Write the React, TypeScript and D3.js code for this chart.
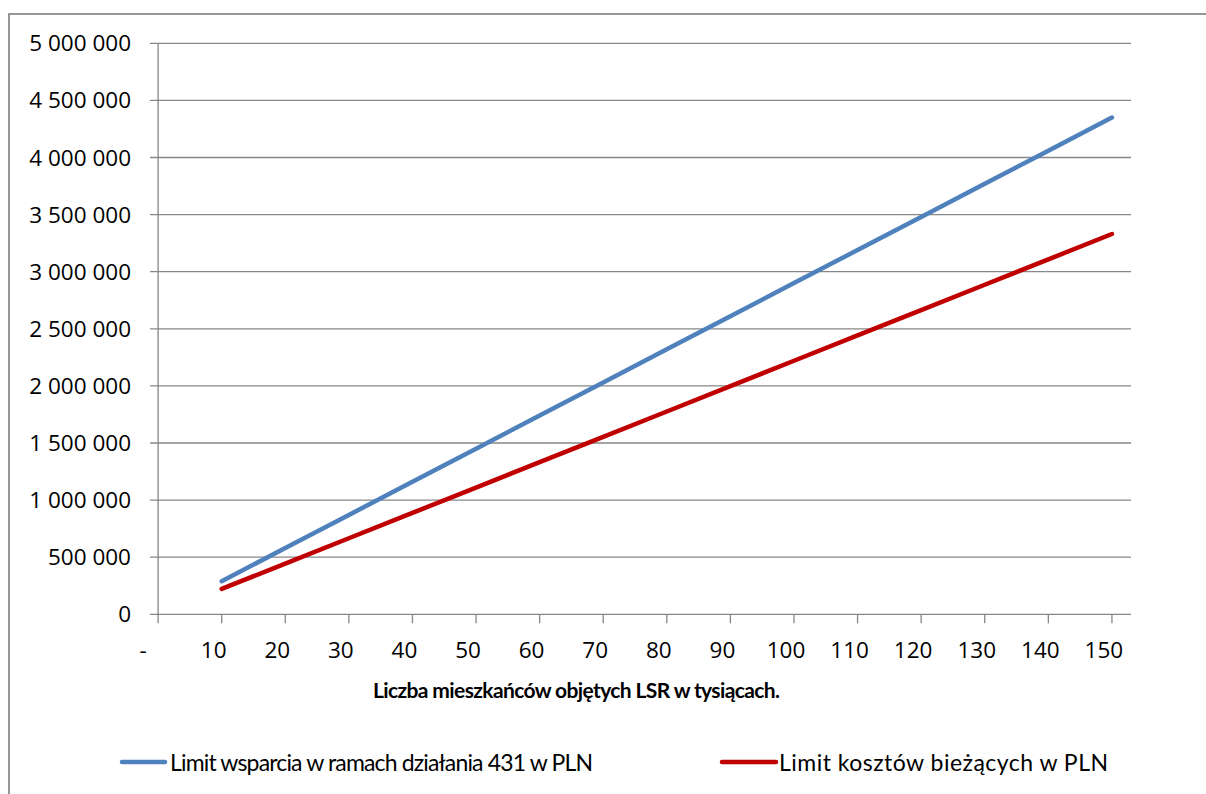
import React from "react";
import * as d3 from "d3";

// Category values along the x axis (population in thousands)
const categories = [0, 10, 20, 30, 40, 50, 60, 70, 80, 90, 100, 110, 120, 130, 140, 150];
// Series values in PLN for categories 10..150
const supportLimit = [290000, 580000, 870000, 1160000, 1450000, 1740000, 2030000, 2320000, 2610000, 2900000, 3190000, 3480000, 3770000, 4060000, 4350000];
const runningCostLimit = [222000, 444000, 666000, 888000, 1110000, 1332000, 1554000, 1776000, 1998000, 2220000, 2442000, 2664000, 2886000, 3108000, 3330000];
const seriesX = [10, 20, 30, 40, 50, 60, 70, 80, 90, 100, 110, 120, 130, 140, 150];
const yTicks = [0, 500000, 1000000, 1500000, 2000000, 2500000, 3000000, 3500000, 4000000, 4500000, 5000000];
const seriesNames = ["Limit wsparcia w ramach działania 431 w PLN", "Limit kosztów bieżących w PLN"];
const axisTitle = "Liczba mieszkańców objętych LSR w tysiącach.";

const W = 1206;
const H = 794;
const FONT = "'Open Sans', sans-serif";
const NARROW = "Lato, 'Open Sans', sans-serif";
const GRID = "#878787";

const fmt = (v: number) => {
  if (v === 0) return "0";
  return d3.format(",")(v).replace(/,/g, " ");
};

export default function App() {
  const x = d3.scaleLinear().domain([0, 153]).range([158.1, 1131]);
  const y = d3.scaleLinear().domain([0, 5000000]).range([614.3, 43.3]);

  const line = d3
    .line<number>()
    .x((_, i) => x(seriesX[i]))
    .y((d) => y(d));

  const series = [
    { name: seriesNames[0], values: supportLimit, color: "#4F81BD" },
    { name: seriesNames[1], values: runningCostLimit, color: "#C00000" },
  ];

  const legendItems = [
    { x1: 122, x2: 165, tx: 170, tw: 423, color: series[0].color, name: series[0].name },
    { x1: 722, x2: 776, tx: 779, tw: 329, color: series[1].color, name: series[1].name },
  ];

  return (
    <svg
      width={W}
      height={H}
      style={{ position: "fixed", left: 0, top: 0, background: "#fff" }}
      fontFamily={FONT}
    >
      <rect x={9} y={14} width={1300} height={900} fill="#fff" stroke="#8c8c8c" strokeWidth={1.8} />

      {/* horizontal gridlines and y tick marks */}
      {yTicks.map((t) => (
        <g key={t}>
          <line x1={150} x2={1131} y1={y(t)} y2={y(t)} stroke={GRID} strokeWidth={1.3} />
          <text x={131} y={y(t) + 8} textAnchor="end" fontSize={22.5} fill="#000">
            {fmt(t)}
          </text>
        </g>
      ))}

      {/* y axis */}
      <line x1={x(0)} x2={x(0)} y1={y(5000000)} y2={y(0)} stroke={GRID} strokeWidth={1.3} />

      {/* x tick marks and labels */}
      {categories.map((c) => (
        <g key={c}>
          <line x1={x(c)} x2={x(c)} y1={y(0)} y2={y(0) + 9} stroke={GRID} strokeWidth={1.3} />
          <text
            x={c === 0 ? x(c) - 15 : x(c) - 8}
            y={658}
            textAnchor="middle"
            fontSize={22.5}
            fill="#000"
          >
            {c === 0 ? "-" : String(c)}
          </text>
        </g>
      ))}

      {/* data lines */}
      {series.map((s) => (
        <path
          key={s.name}
          d={line(s.values) ?? ""}
          fill="none"
          stroke={s.color}
          strokeWidth={4.5}
          strokeLinecap="round"
          strokeLinejoin="round"
        />
      ))}

      {/* x axis title */}
      <text
        x={373}
        y={698}
        fontSize={21}
        fontFamily={NARROW}
        fontWeight="bold"
        fill="#000"
        textLength={407}
        lengthAdjust="spacing"
      >
        {axisTitle}
      </text>

      {/* legend */}
      {legendItems.map((l) => (
        <g key={l.name}>
          <line x1={l.x1} x2={l.x2} y1={762} y2={762} stroke={l.color} strokeWidth={4.5} strokeLinecap="round" />
          <text
            x={l.tx}
            y={771}
            fontSize={23}
            fontFamily={NARROW}
            fill="#000"
            textLength={l.tw}
            lengthAdjust="spacing"
          >
            {l.name}
          </text>
        </g>
      ))}
    </svg>
  );
}
